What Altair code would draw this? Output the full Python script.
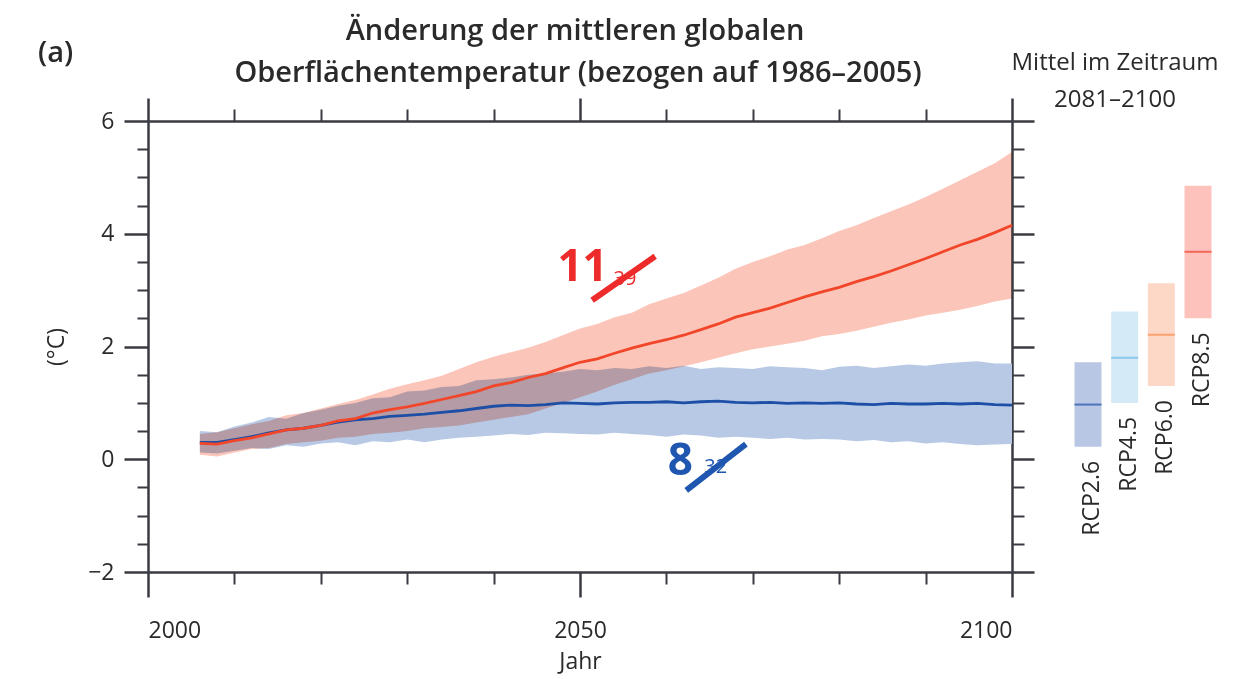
import altair as alt
import pandas as pd

# ---------------- data ----------------
years = list(range(2006, 2101, 2))

rcp26_mean = [0.30, 0.30, 0.35, 0.40, 0.47, 0.52, 0.55, 0.60, 0.66, 0.70, 0.72, 0.76,
              0.78, 0.80, 0.83, 0.86, 0.90, 0.94, 0.96, 0.95, 0.97, 1.00, 0.99, 0.98,
              1.00, 1.01, 1.01, 1.02, 1.00, 1.02, 1.03, 1.01, 1.00, 1.01, 0.99, 1.00,
              0.99, 1.00, 0.98, 0.97, 0.99, 0.98, 0.98, 0.99, 0.98, 0.99, 0.97, 0.96]
rcp26_hi = [0.50, 0.48, 0.58, 0.65, 0.75, 0.72, 0.82, 0.88, 0.95, 1.00, 1.08, 1.10,
            1.20, 1.22, 1.28, 1.30, 1.40, 1.42, 1.45, 1.50, 1.52, 1.55, 1.60, 1.58,
            1.62, 1.60, 1.65, 1.62, 1.66, 1.60, 1.63, 1.62, 1.60, 1.65, 1.63, 1.62,
            1.58, 1.64, 1.66, 1.62, 1.65, 1.68, 1.66, 1.70, 1.72, 1.74, 1.70, 1.70]
rcp26_lo = [0.12, 0.10, 0.15, 0.20, 0.18, 0.25, 0.22, 0.28, 0.30, 0.25, 0.32, 0.30,
            0.35, 0.30, 0.35, 0.38, 0.40, 0.42, 0.45, 0.43, 0.47, 0.46, 0.45, 0.44,
            0.47, 0.45, 0.43, 0.40, 0.44, 0.42, 0.38, 0.40, 0.38, 0.36, 0.38, 0.35,
            0.36, 0.35, 0.32, 0.34, 0.30, 0.32, 0.28, 0.30, 0.27, 0.25, 0.26, 0.27]

rcp85_mean = [0.28, 0.27, 0.33, 0.38, 0.45, 0.52, 0.55, 0.60, 0.68, 0.72, 0.82, 0.88,
              0.93, 0.99, 1.06, 1.13, 1.20, 1.30, 1.36, 1.45, 1.52, 1.62, 1.72, 1.78,
              1.88, 1.97, 2.05, 2.12, 2.20, 2.30, 2.40, 2.52, 2.60, 2.68, 2.78, 2.88,
              2.97, 3.05, 3.15, 3.24, 3.34, 3.45, 3.56, 3.68, 3.80, 3.90, 4.02, 4.15]
rcp85_hi = [0.45, 0.48, 0.55, 0.62, 0.68, 0.78, 0.82, 0.90, 0.98, 1.05, 1.15, 1.25,
            1.33, 1.40, 1.48, 1.60, 1.72, 1.82, 1.90, 1.98, 2.08, 2.20, 2.32, 2.40,
            2.52, 2.60, 2.75, 2.85, 2.95, 3.08, 3.22, 3.38, 3.50, 3.60, 3.72, 3.80,
            3.92, 4.05, 4.15, 4.28, 4.40, 4.52, 4.65, 4.80, 4.95, 5.10, 5.25, 5.45]
rcp85_lo = [0.08, 0.05, 0.12, 0.18, 0.20, 0.27, 0.30, 0.33, 0.38, 0.40, 0.45, 0.47,
            0.50, 0.55, 0.57, 0.60, 0.65, 0.70, 0.75, 0.80, 0.90, 1.00, 1.10, 1.20,
            1.32, 1.42, 1.52, 1.58, 1.65, 1.72, 1.80, 1.88, 1.95, 2.00, 2.05, 2.10,
            2.18, 2.22, 2.28, 2.35, 2.42, 2.48, 2.55, 2.60, 2.65, 2.72, 2.80, 2.85]

# 2081-2100 means (side bars)
rcp_names = ["RCP2.6", "RCP4.5", "RCP6.0", "RCP8.5"]
rcp_lo = [0.22, 1.00, 1.30, 2.50]
rcp_mid = [0.97, 1.80, 2.21, 3.68]
rcp_hi = [1.72, 2.62, 3.12, 4.85]

# model counts (annotations): big number, small number, anchor year/value
ann_big = ["11", "8"]
ann_small = ["39", "32"]
ann_big_year = [2050.3, 2061.6]
ann_big_val = [3.39, -0.05]
ann_small_year = [2055.2, 2065.7]
ann_small_val = [3.19, -0.14]
slash_year = [2051.4, 2062.3]
slash_val = [2.82, -0.55]
slash_year2 = [2058.7, 2069.2]
slash_val2 = [3.60, 0.27]

x_major = [2000, 2050, 2100]
x_minor = [2010, 2020, 2030, 2040, 2060, 2070, 2080, 2090]
y_major = [-2, 0, 2, 4, 6]
y_minor = [-1.5, -1, -0.5, 0.5, 1, 1.5, 2.5, 3, 3.5, 4.5, 5, 5.5]

title_lines = ["Änderung der mittleren globalen",
               "Oberflächentemperatur (bezogen auf 1986–2005)"]

# ---------------- tables ----------------
ts = pd.DataFrame({
    "year": years,
    "m26": rcp26_mean, "h26": rcp26_hi, "l26": rcp26_lo,
    "m85": rcp85_mean, "h85": rcp85_hi, "l85": rcp85_lo,
})
side = pd.DataFrame({"rcp": rcp_names, "lo": rcp_lo, "mid": rcp_mid, "hi": rcp_hi})
ann = pd.DataFrame({
    "big": ann_big, "small": ann_small,
    "by": ann_big_year, "bv": ann_big_val,
    "sy": ann_small_year, "sv": ann_small_val,
    "x1": slash_year, "y1": slash_val, "x2": slash_year2, "y2": slash_val2,
    "grp": ["RCP8.5", "RCP2.6"],
})
one = pd.DataFrame({"k": [0]})

# ---------------- style ----------------
FONT = "Open Sans"
AX = "#3a3b42"
TXT = "#2a2a2a"
W, H = 864, 451
XS = alt.Scale(domain=[2000, 2100], nice=False, zero=False)
YS = alt.Scale(domain=[-2, 6], nice=False, zero=False)

common_axis = dict(grid=False, tickColor=AX, domainColor=AX, domainWidth=2.5,
                   labelFont=FONT, labelColor=TXT, titleFont=FONT, titleColor=TXT,
                   titleFontWeight="normal")

ax_bottom = alt.Axis(orient="bottom", values=x_major, format="d", tickSize=25, tickWidth=2.5,
                     labelFontSize=23, labelPadding=22, title="Jahr", titleFontSize=23,
                     titlePadding=8, **common_axis)
ax_bottom_minor = alt.Axis(orient="bottom", values=x_minor, tickSize=12, tickWidth=2,
                           labels=False, domain=False, title="", **common_axis)
ax_top = alt.Axis(orient="top", values=x_major, tickSize=23, tickWidth=2.5, labels=False,
                  title="", **common_axis)
ax_top_minor = alt.Axis(orient="top", values=x_minor, tickSize=12, tickWidth=2,
                        labels=False, domain=False, title="", **common_axis)
ax_left = alt.Axis(orient="left", values=y_major, tickSize=24, tickWidth=2.5,
                   labelFontSize=23, labelPadding=10, title="(°C)", titleFontSize=23,
                   titlePadding=19, **common_axis)
ax_left_minor = alt.Axis(orient="left", values=y_minor, tickSize=11, tickWidth=2,
                         labels=False, domain=False, title="", **common_axis)
ax_right = alt.Axis(orient="right", values=y_major, tickSize=22, tickWidth=2.5,
                    labels=False, title="", **common_axis)
ax_right_minor = alt.Axis(orient="right", values=y_minor, tickSize=12, tickWidth=2,
                          labels=False, domain=False, title="", **common_axis)

base = alt.Chart(ts)

blue_band = base.mark_area(color="#b7c9e5", opacity=1).encode(
    x=alt.X("year:Q", scale=XS, axis=ax_bottom),
    y=alt.Y("l26:Q", scale=YS, axis=ax_left),
    y2="h26:Q",
)
red_band = base.mark_area(color="#fcc5b9", opacity=1, blend="multiply").encode(
    x=alt.X("year:Q", scale=XS, axis=ax_bottom_minor),
    y=alt.Y("l85:Q", scale=YS, axis=ax_left_minor),
    y2="h85:Q",
)
blue_line = base.mark_line(color="#1d4fa6", strokeWidth=2.8).encode(
    x=alt.X("year:Q", scale=XS, axis=ax_top),
    y=alt.Y("m26:Q", scale=YS, axis=ax_right),
)
red_line = base.mark_line(color="#f2462a", strokeWidth=2.8).encode(
    x=alt.X("year:Q", scale=XS, axis=ax_top_minor),
    y=alt.Y("m85:Q", scale=YS, axis=ax_right_minor),
)

ann_colors = alt.Scale(domain=["RCP8.5", "RCP2.6"], range=["#ee2b2b", "#1f56b0"])
slashes = alt.Chart(ann).mark_rule(strokeWidth=6).encode(
    x=alt.X("x1:Q", scale=XS, axis=None), x2="x2:Q",
    y=alt.Y("y1:Q", scale=YS, axis=None), y2="y2:Q",
    color=alt.Color("grp:N", scale=ann_colors, legend=None),
)
big_txt = alt.Chart(ann).mark_text(font=FONT, fontSize=44, fontWeight="bold").encode(
    x=alt.X("by:Q", scale=XS, axis=None),
    y=alt.Y("bv:Q", scale=YS, axis=None),
    text="big:N",
    color=alt.Color("grp:N", scale=ann_colors, legend=None),
)
small_txt = alt.Chart(ann).mark_text(font=FONT, fontSize=20).encode(
    x=alt.X("sy:Q", scale=XS, axis=None),
    y=alt.Y("sv:Q", scale=YS, axis=None),
    text="small:N",
    color=alt.Color("grp:N", scale=ann_colors, legend=None),
)

# side panel (2081-2100 means), placed right of the plot on its own point scale
SIDE_X = alt.Scale(type="point", domain=rcp_names, range=[940, 1050], padding=0)
band_cols = alt.Scale(domain=rcp_names, range=["#b8c7e4", "#d5eaf7", "#fdd8c6", "#fdc2bb"])
line_cols = alt.Scale(domain=rcp_names, range=["#1f50a8", "#6cb9e8", "#f98b4c", "#f04030"])
side_base = alt.Chart(side)
side_bars = side_base.mark_bar(width=27).encode(
    x=alt.X("rcp:N", scale=SIDE_X, axis=None),
    y=alt.Y("lo:Q", scale=YS, axis=None), y2="hi:Q",
    color=alt.Color("rcp:N", scale=band_cols, legend=None),
)
side_ticks = side_base.mark_tick(size=27, thickness=2).encode(
    x=alt.X("rcp:N", scale=SIDE_X, axis=None),
    y=alt.Y("mid:Q", scale=YS, axis=None),
    color=alt.Color("rcp:N", scale=line_cols, legend=None),
)
side_labels = side_base.mark_text(font=FONT, fontSize=23, angle=270, align="right",
                                  baseline="middle", dx=-14, dy=4, color=TXT).encode(
    x=alt.X("rcp:N", scale=SIDE_X, axis=None),
    y=alt.Y("lo:Q", scale=YS, axis=None),
    text="rcp:N",
)

side_title = alt.Chart(one).mark_text(font=FONT, fontSize=24, color=TXT, align="center",
                                      baseline="top", lineBreak="\n", lineHeight=37).encode(
    x=alt.value(967), y=alt.value(-70),
    text=alt.value("Mittel im Zeitraum\n2081–2100"),
)
panel_tag = alt.Chart(one).mark_text(font=FONT, fontSize=29, color=TXT, align="left",
                                     baseline="top", fontWeight=600).encode(
    x=alt.value(-110), y=alt.value(-82),
    text=alt.value("(a)"),
)
title1 = alt.Chart(one).mark_text(font=FONT, fontSize=29, fontWeight=600, color=TXT,
                                  align="center", baseline="alphabetic").encode(
    x=alt.value(427), y=alt.value(-81), text=alt.value(title_lines[0]),
)
title2 = alt.Chart(one).mark_text(font=FONT, fontSize=29, fontWeight=600, color=TXT,
                                  align="center", baseline="alphabetic").encode(
    x=alt.value(430), y=alt.value(-39), text=alt.value(title_lines[1]),
)

chart = alt.layer(
    blue_band, red_band, blue_line, red_line,
    slashes, big_txt, small_txt,
    side_bars, side_ticks, side_labels, side_title, panel_tag, title1, title2,
).resolve_scale(
    x="independent", color="independent"
).resolve_axis(
    x="independent", y="independent"
).properties(
    width=W, height=H,
    autosize=alt.AutoSizeParams(type="none"),
    padding={"left": 140, "top": 113, "right": 228, "bottom": 105},
).configure_view(stroke=None)

chart.save("out.html", embed_options={"renderer": "svg", "actions": False})
